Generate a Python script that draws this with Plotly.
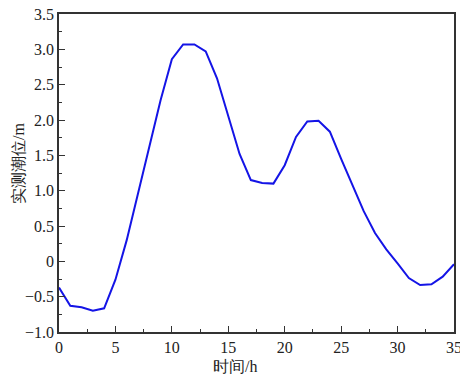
import plotly.graph_objects as go

hours = list(range(36))
tide = [-0.37, -0.63, -0.65, -0.70, -0.665, -0.26, 0.30, 0.96, 1.63, 2.28,
        2.86, 3.07, 3.07, 2.97, 2.59, 2.05, 1.52, 1.15, 1.11, 1.10,
        1.36, 1.76, 1.98, 1.99, 1.835, 1.45, 1.07, 0.71, 0.40, 0.17,
        -0.03, -0.236, -0.335, -0.325, -0.217, -0.04]

y_ticks = [-1.0, -0.5, 0, 0.5, 1.0, 1.5, 2.0, 2.5, 3.0, 3.5]
y_labels = ["\u22121.0", "\u22120.5", "0", "0.5", "1.0", "1.5", "2.0", "2.5", "3.0", "3.5"]
x_ticks = [0, 5, 10, 15, 20, 25, 30, 35]
x_title = "时间/h"
y_title = "实测潮位/m"

font_fam = "Times New Roman, Liberation Serif, DejaVu Serif, serif"

fig = go.Figure()
fig.add_trace(go.Scatter(x=hours, y=tide, mode="lines",
                         line=dict(color="#1414E6", width=2), showlegend=False))

axis_common = dict(showline=True, linecolor="#333333", linewidth=1.5, mirror=True,
                   showgrid=False, zeroline=False, ticks="inside", ticklen=6,
                   tickcolor="#333333", tickwidth=1, automargin=False,
                   ticklabeloverflow="allow",
                   tickfont=dict(family=font_fam, size=16, color="#222222"))

fig.update_xaxes(range=[0, 35], tickvals=x_ticks,
                 minor=dict(ticks="inside", ticklen=3, dtick=2.5, tickcolor="#333333", showgrid=False),
                 **axis_common)
fig.update_yaxes(range=[-1.0, 3.5], tickvals=y_ticks, ticktext=y_labels,
                 minor=dict(ticks="inside", ticklen=3, dtick=0.25, tickcolor="#333333", showgrid=False),
                 **axis_common)

fig.add_annotation(text=x_title, xref="paper", yref="paper", x=0.446, y=-0.107,
                   xanchor="center", yanchor="middle", showarrow=False,
                   font=dict(family=font_fam, size=16, color="#222222"))
fig.add_annotation(text=y_title, xref="paper", yref="paper", x=-0.104, y=0.531,
                   xanchor="center", yanchor="middle", showarrow=False, textangle=-90,
                   font=dict(family=font_fam, size=16, color="#222222"))

fig.update_layout(width=460, height=375, margin=dict(l=59, r=6, t=14, b=43),
                  plot_bgcolor="white", paper_bgcolor="white",
                  font=dict(family=font_fam))

fig.write_html("out.html", config={"displayModeBar": False},
               post_script="document.body.style.margin='0';document.body.style.padding='0';")
